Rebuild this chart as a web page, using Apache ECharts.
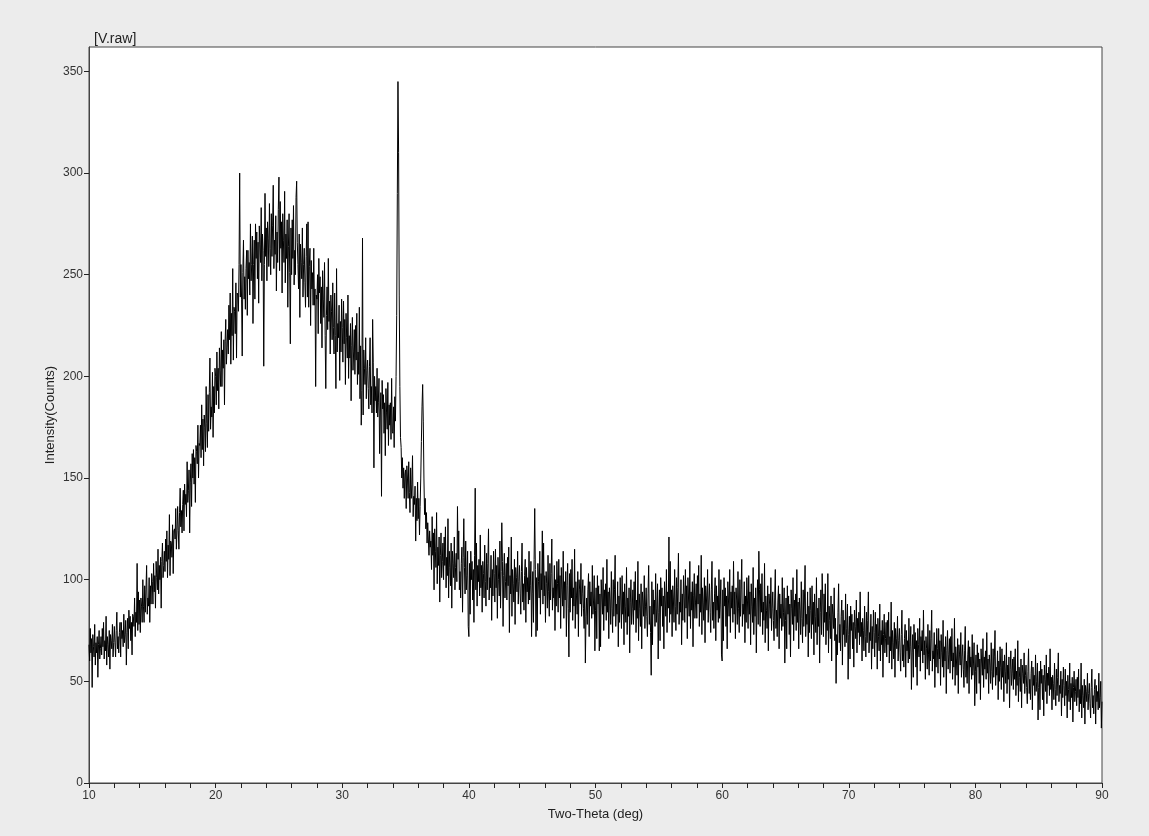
<!DOCTYPE html>
<html>
<head>
<meta charset="utf-8">
<script src="https://cdn.jsdelivr.net/npm/echarts@6/dist/echarts.min.js"></script>
<style>
html,body{margin:0;padding:0;background:#ececec;}
#chart{width:1149px;height:836px;}
</style>
</head>
<body>
<div id="chart"></div>
<script>
// XRD scan, 2-theta from 10 to 90 deg, 0.05 deg step
const scanStart = 10;
const scanStep = 0.05;
const chartTitle = '[V.raw]';
const xAxisName = 'Two-Theta (deg)';
const yAxisName = 'Intensity(Counts)';
const yTickValues = [0, 50, 100, 150, 200, 250, 300, 350];

// counts, one row per degree (20 readings each)
const counts10to30 = [
  68,60,76,64,71,47,73,67,62,78,58,69,64,72,52,68,75,61,66,72,
  63,76,67,79,61,70,65,82,58,72,68,62,75,56,73,70,66,78,62,69,
  77,69,62,75,84,66,72,64,74,79,62,79,71,75,67,83,69,73,80,58,
  74,81,66,85,76,82,70,79,63,83,82,77,91,72,84,79,108,75,94,78,
  90,74,91,87,79,100,87,79,97,84,95,107,83,91,87,101,79,97,88,103,
  99,88,108,94,102,86,109,101,95,115,93,107,100,111,86,109,118,101,107,114,
  104,120,109,124,101,117,110,132,102,119,118,111,127,103,124,125,120,135,115,124,
  136,124,115,133,145,126,134,123,137,144,124,147,137,142,131,158,138,144,154,123,
  148,157,136,162,150,164,147,160,138,166,163,157,176,150,167,166,176,160,186,164,
  179,156,181,175,163,195,177,165,191,173,192,209,174,185,180,202,170,195,182,204,
  200,186,212,193,204,184,214,203,195,222,195,213,204,218,186,217,228,206,214,223,
  211,235,218,241,206,231,220,253,208,234,232,221,246,209,241,240,232,255,300,239,
  255,238,210,251,267,238,249,233,253,262,230,262,248,256,240,275,247,255,269,226,
  255,267,238,275,258,271,248,266,236,274,265,256,283,247,270,262,205,255,290,259,
  273,247,276,268,254,285,263,250,280,259,274,294,253,267,260,279,242,271,256,282,
  298,252,286,263,276,241,280,267,256,291,246,270,258,277,234,264,280,251,216,273,
  250,277,258,284,245,262,250,288,296,266,255,243,270,229,265,256,248,273,239,255,
  263,246,234,259,275,239,276,234,254,263,225,257,243,251,235,263,235,243,195,240,
  238,250,221,258,241,249,226,244,214,252,238,229,256,220,194,230,244,223,258,227,
  237,211,240,232,218,246,224,211,241,220,194,253,212,226,219,235,198,227,212,238
];
const counts30to50 = [
  224,207,237,216,228,196,231,219,209,240,199,220,209,226,188,215,229,203,212,223,
  201,225,208,231,196,212,201,234,189,215,176,193,268,181,213,204,196,219,189,203,
  208,194,184,205,219,186,195,182,228,207,155,200,188,195,182,204,180,187,199,162,
  181,192,141,198,184,191,172,187,161,194,182,174,197,166,186,176,187,169,199,173,
  172,185,165,190,178,200,230,290,345,310,240,195,170,165,150,160,145,155,140,152,
  154,135,156,150,140,158,143,133,155,140,147,161,131,141,137,146,119,140,129,148,
  130,140,122,136,150,168,185,196,178,150,132,140,125,133,118,128,120,112,124,116,
  119,105,131,112,123,95,125,114,106,133,98,116,107,121,89,112,123,101,109,118,
  100,121,107,126,96,111,102,130,91,114,106,97,118,86,114,108,101,121,95,106,
  113,99,136,110,124,95,104,91,108,116,84,111,130,106,93,119,95,102,114,77,
  72,108,83,114,100,109,90,105,79,112,145,95,118,87,107,99,110,92,122,96,
  107,84,109,103,91,117,99,87,113,95,108,125,90,101,96,112,80,105,92,114,
  103,89,115,96,107,81,111,100,92,119,86,104,128,109,77,102,113,91,99,108,
  90,111,97,116,74,102,93,121,82,105,98,89,110,78,106,101,94,114,88,99,
  107,93,83,104,118,89,98,85,102,110,79,106,94,101,88,114,90,97,109,72,
  93,104,79,110,135,105,72,101,75,108,99,91,114,83,103,95,124,88,118,92,
  102,79,104,98,86,112,94,82,108,90,103,120,85,96,91,107,75,100,87,109,
  98,84,110,91,102,76,106,95,87,114,81,99,90,104,72,97,108,86,62,103,
  84,105,91,110,80,96,87,115,76,99,92,83,104,72,100,95,88,108,82,93,
  100,86,76,97,59,82,91,78,95,103,72,99,87,94,81,107,83,90,102,65
];
const counts50to70 = [
  85,96,71,102,88,97,65,93,67,100,91,83,106,75,95,87,98,80,110,84,
  94,71,96,90,78,104,86,74,100,82,95,112,77,88,83,99,67,92,79,101,
  90,76,102,83,94,68,98,87,79,106,73,91,82,96,64,89,100,78,86,95,
  78,99,85,104,74,90,81,109,70,93,86,77,98,66,94,89,82,102,76,87,
  96,82,72,93,107,78,87,74,53,99,68,95,83,90,77,103,79,86,98,61,
  84,95,70,101,87,96,77,92,66,99,90,82,105,74,94,86,121,79,109,83,
  95,72,97,91,79,105,87,75,101,83,96,113,78,89,84,100,68,93,80,102,
  93,79,105,86,97,71,101,90,82,109,76,94,85,99,67,92,103,81,89,98,
  81,102,88,107,77,93,84,112,73,96,89,80,101,69,97,92,85,105,79,90,
  98,84,74,95,109,80,89,76,93,101,70,97,85,92,79,105,81,88,100,63,
  60,95,70,101,87,96,77,92,66,99,90,82,105,74,94,86,97,79,109,83,
  94,71,96,90,78,104,86,74,100,82,95,110,77,88,83,99,69,92,79,101,
  90,76,102,83,94,68,98,87,79,106,73,91,82,96,64,89,100,78,114,95,
  77,98,84,103,73,89,80,108,69,92,85,76,97,65,93,88,81,101,75,86,
  94,80,70,91,105,76,85,72,89,97,66,93,81,88,75,101,77,84,96,59,
  80,91,66,97,83,92,73,88,62,95,86,78,101,70,90,82,93,75,105,79,
  89,66,91,85,73,99,81,69,95,77,90,107,72,83,78,94,62,87,74,96,
  85,71,97,78,89,63,93,82,74,101,68,86,77,91,59,84,95,73,103,90,
  72,93,79,98,68,84,75,103,64,87,80,71,92,60,88,83,76,96,70,81,
  49,73,63,84,98,69,78,65,82,90,58,85,73,80,67,93,69,76,88,51
];
const counts70to90 = [
  73,82,61,87,75,83,66,79,57,85,77,71,90,64,81,74,84,68,94,72,
  79,60,81,75,65,87,72,62,84,69,80,94,64,74,70,83,56,77,66,85,
  74,62,84,69,78,56,81,72,65,88,60,75,68,80,52,73,83,64,71,79,
  62,80,68,84,59,72,65,89,56,75,69,61,79,52,76,71,66,82,60,70,
  76,64,55,73,85,60,68,57,71,78,52,75,65,70,59,81,61,67,77,46,
  64,73,52,78,66,74,57,70,48,76,68,62,81,55,72,65,75,59,85,63,
  70,51,72,66,56,78,63,53,75,60,71,85,55,65,61,74,47,68,57,76,
  66,54,76,61,70,48,73,64,57,80,52,67,60,72,44,65,75,56,63,71,
  54,72,60,76,51,64,57,81,48,67,61,53,71,44,68,63,58,74,52,62,
  68,56,47,65,77,52,60,49,63,70,44,67,57,62,51,73,53,59,69,38,
  55,63,44,68,57,64,49,61,41,66,59,53,71,47,62,56,65,51,74,54,
  61,44,63,58,49,69,55,46,66,52,62,75,48,57,53,65,41,60,50,67,
  57,46,66,52,60,40,63,55,49,69,44,58,51,62,37,56,65,48,54,61,
  46,62,51,66,43,55,48,70,40,57,52,45,61,37,58,54,49,64,44,53,
  58,47,39,55,66,44,51,41,54,60,36,57,48,53,43,63,45,50,59,31,
  47,55,36,60,49,56,41,53,33,58,51,45,63,39,54,48,57,43,66,46,
  52,36,53,49,41,59,46,38,56,43,52,64,40,48,44,55,33,51,42,57,
  48,38,56,43,50,32,53,46,40,59,36,49,42,52,30,47,55,40,45,51,
  38,52,42,56,35,46,39,59,32,48,43,37,51,29,48,45,40,54,36,44,
  49,39,32,47,56,37,43,34,46,51,29,48,40,45,36,54,37,42,50,27,
  40
];

const counts = counts10to30.concat(counts30to50, counts50to70, counts70to90);
const seriesData = counts.map((c, i) => [+(scanStart + i * scanStep).toFixed(2), c]);

const chart = echarts.init(document.getElementById('chart'), null, {renderer: 'canvas'});
const axisColor = '#444';
const font = '"Liberation Sans", Arial, sans-serif';
chart.setOption({
  animation: false,
  backgroundColor: '#ececec',
  title: {
    text: chartTitle,
    left: 94, top: 32, padding: 0,
    textStyle: {fontSize: 14, fontWeight: 'normal', color: '#222', fontFamily: font}
  },
  grid: {
    left: 89, top: 47, right: 47, bottom: 53,
    show: true, backgroundColor: '#ffffff', borderColor: axisColor, borderWidth: 1
  },
  xAxis: {
    type: 'value', min: 10, max: 90, interval: 10,
    name: xAxisName, nameLocation: 'middle', nameGap: 25, nameMoveOverlap: false,
    nameTextStyle: {fontSize: 13, color: '#222', fontFamily: font},
    axisLine: {show: true, lineStyle: {color: axisColor, width: 1}},
    axisTick: {show: true, inside: false, length: 5, lineStyle: {color: '#222'}},
    minorTick: {show: true, splitNumber: 5, length: 5, lineStyle: {color: '#222'}},
    axisLabel: {fontSize: 12, color: '#333', margin: 7, fontFamily: font},
    splitLine: {show: false}
  },
  yAxis: {
    type: 'value', min: 0, max: 362,
    name: yAxisName, nameLocation: 'middle', nameGap: 32, nameRotate: 90, nameMoveOverlap: false,
    nameTextStyle: {fontSize: 13, color: '#222', fontFamily: font},
    axisLine: {show: true, lineStyle: {color: axisColor, width: 1}},
    axisTick: {show: true, inside: false, length: 5, customValues: yTickValues, lineStyle: {color: '#222'}},
    axisLabel: {fontSize: 12, color: '#333', margin: 6, customValues: yTickValues, fontFamily: font},
    splitLine: {show: false}
  },
  series: [{
    type: 'line',
    data: seriesData,
    showSymbol: false,
    symbol: 'none',
    lineStyle: {color: '#000', width: 1},
    silent: true
  }]
});
</script>
</body>
</html>
